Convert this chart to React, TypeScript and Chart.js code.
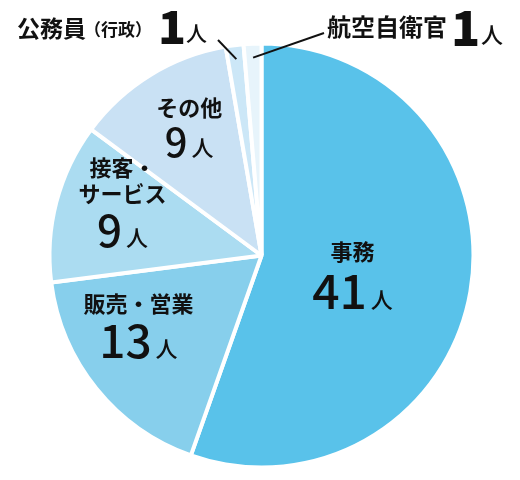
import { useEffect, useRef } from 'react'
import { Chart, registerables } from 'chart.js'

Chart.register(...registerables)

// data, clockwise from 12 o'clock
const categories = ['事務', '販売・営業', '接客・サービス', 'その他', '公務員（行政）', '航空自衛官']
const counts = [41, 13, 9, 9, 1, 1]
const sliceColors = ['#59c2ea', '#87cfec', '#abdcf1', '#c9e1f4', '#cce7f7', '#e7f4fb']

// inside label layout: name lines, digit size, radius fraction, angle nudge (deg)
const insideLabels = [
  { lines: ['事務'], digitSize: 48, r: 0.44, nudge: 3 },
  { lines: ['販売・営業'], digitSize: 46, r: 0.67, nudge: 9 },
  { lines: ['接客・', 'サービス'], digitSize: 44, r: 0.7, nudge: 6 },
  { lines: ['その他'], digitSize: 40, r: 0.69, nudge: 2 }
]

const FONT = '"Noto Sans CJK JP", "Noto Sans", sans-serif'

const labelPlugin = {
  id: 'sliceLabels',
  afterDatasetsDraw(chart: any) {
    const ctx = chart.ctx as CanvasRenderingContext2D
    const arcs = chart.getDatasetMeta(0).data
    ctx.save()
    ctx.fillStyle = '#111111'

    insideLabels.forEach((lab, i) => {
      const arc = arcs[i]
      const { x, y, startAngle, endAngle, outerRadius } = arc.getProps(
        ['x', 'y', 'startAngle', 'endAngle', 'outerRadius'], true)
      const mid = (startAngle + endAngle) / 2 + (lab.nudge * Math.PI) / 180
      const cx = x + Math.cos(mid) * outerRadius * lab.r
      const cy = y + Math.sin(mid) * outerRadius * lab.r
      const lineH = 26
      const digitGap = lab.digitSize * 0.97
      const blockH = 19 + (lab.lines.length - 1) * lineH + digitGap
      let base = cy - blockH / 2 + 19
      ctx.textAlign = 'center'
      ctx.textBaseline = 'alphabetic'
      ctx.font = `bold 22px ${FONT}`
      lab.lines.forEach((ln, k) => {
        ctx.fillText(ln, cx, base + k * lineH - 2)
      })
      base += (lab.lines.length - 1) * lineH + digitGap
      const num = String(counts[i])
      ctx.font = `500 ${lab.digitSize}px ${FONT}`
      const nw = ctx.measureText(num).width
      ctx.font = `500 22px ${FONT}`
      const pw = ctx.measureText('人').width
      const total = nw + 4 + pw
      ctx.textAlign = 'left'
      ctx.font = `500 ${lab.digitSize}px ${FONT}`
      ctx.fillText(num, cx - total / 2, base)
      ctx.font = `500 22px ${FONT}`
      ctx.fillText('人', cx - total / 2 + nw + 4, base - 1)
    })

    // outside labels with leader lines
    const drawLeader = (i: number, tx: number, ty: number) => {
      const arc = arcs[i]
      const { x, y, startAngle, endAngle, outerRadius } = arc.getProps(
        ['x', 'y', 'startAngle', 'endAngle', 'outerRadius'], true)
      const mid = (startAngle + endAngle) / 2
      const px = x + Math.cos(mid) * (outerRadius - 14)
      const py = y + Math.sin(mid) * (outerRadius - 14)
      ctx.strokeStyle = '#111111'
      ctx.lineWidth = 2
      ctx.beginPath()
      ctx.moveTo(px, py)
      ctx.lineTo(tx, ty)
      ctx.stroke()
    }
    drawLeader(4, 218, 40)
    drawLeader(5, 324, 33)

    ctx.textAlign = 'left'
    ctx.textBaseline = 'alphabetic'
    // 公務員（行政）
    ctx.font = `bold 23px ${FONT}`
    ctx.fillText('公務員', 17, 37)
    let xx = 17 + ctx.measureText('公務員').width
    ctx.font = `bold 17px ${FONT}`
    ctx.fillText('（行政）', xx - 2, 36)
    ctx.font = `900 46px ${FONT}`
    ctx.fillText(String(counts[4]), 158, 44)
    ctx.font = `500 21px ${FONT}`
    ctx.fillText('人', 186, 41)
    // 航空自衛官
    ctx.font = `bold 24px ${FONT}`
    ctx.fillText('航空自衛官', 327, 36)
    ctx.font = `900 48px ${FONT}`
    ctx.fillText(String(counts[5]), 451, 46)
    ctx.font = `500 22px ${FONT}`
    ctx.fillText('人', 481, 43)

    ctx.restore()
  }
}

export default function App() {
  const canvasRef = useRef<HTMLCanvasElement>(null)
  const chartRef = useRef<Chart | null>(null)

  useEffect(() => {
    if (!canvasRef.current) return
    if (chartRef.current) chartRef.current.destroy()

    chartRef.current = new Chart(canvasRef.current, {
      type: 'pie',
      data: {
        labels: categories,
        datasets: [
          {
            data: counts,
            backgroundColor: sliceColors,
            borderColor: '#ffffff',
            borderWidth: 4
          }
        ]
      },
      options: {
        animation: false,
        responsive: true,
        maintainAspectRatio: false,
        radius: 212,
        layout: { padding: { left: 3, right: 0, top: 31, bottom: 0 } },
        plugins: {
          legend: { display: false },
          tooltip: { enabled: false }
        }
      } as any,
      plugins: [labelPlugin]
    })

    return () => {
      if (chartRef.current) {
        chartRef.current.destroy()
        chartRef.current = null
      }
    }
  }, [])

  return (
    <div style={{ position: 'absolute', left: 0, top: 0, width: 520, height: 480, background: '#ffffff' }}>
      <canvas ref={canvasRef} />
    </div>
  )
}
